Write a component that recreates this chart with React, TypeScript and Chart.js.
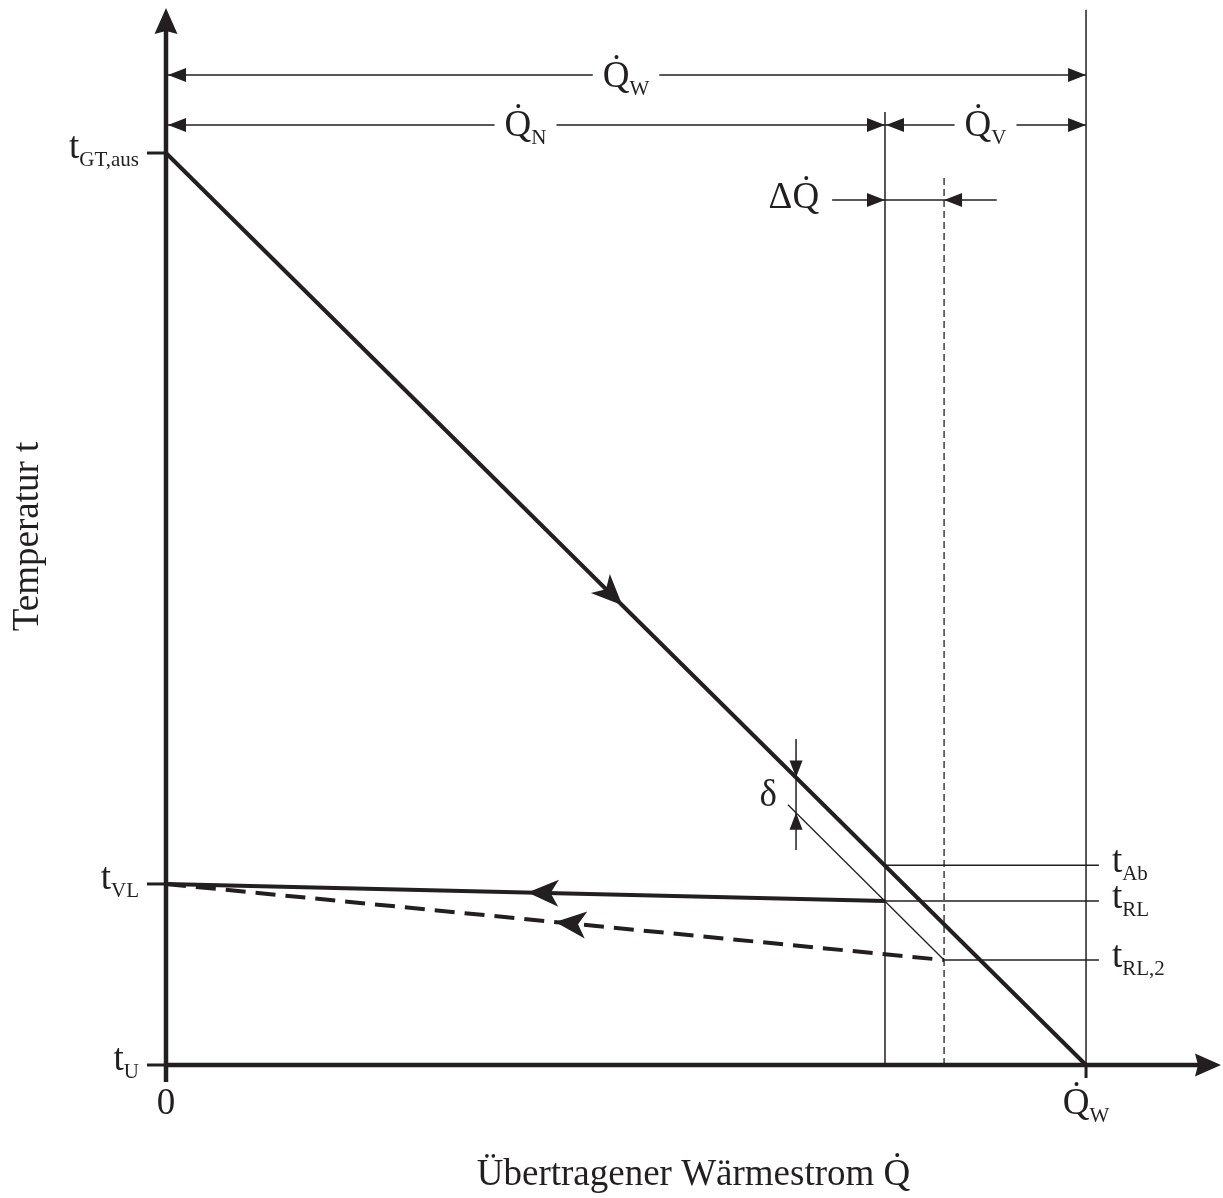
import React, { useEffect, useRef } from "react";
import { Chart, registerables } from "chart.js";

Chart.register(...registerables);

// ---- Data (x: transferred heat flow, 100 = Q̇_W; y: temperature, 0 = t_U, 100 = t_GT,aus) ----
const Q_N = 78.15; // Q̇_N
const Q_N2 = 84.57; // Q̇_N + ΔQ̇
const Q_W = 100; // Q̇_W
const T_U = 0;
const T_GT = 100;
const T_VL = 19.85;
const T_RL = 17.98;
const T_RL2 = 11.51;
const T_AB = 21.9;
const X_MAX = 114.67;
const Y_MAX = 115.9;

const MAIN_LINE = [
  { x: 0, y: T_GT },
  { x: Q_W, y: T_U },
];
const RETURN_LINE = [
  { x: 0, y: T_VL },
  { x: Q_N, y: T_RL },
];
const RETURN_LINE_2 = [
  { x: 0, y: T_VL },
  { x: Q_N2, y: T_RL2 },
];
const THIN_LINE = [
  { x: 67.6, y: 28.53 },
  { x: Q_N2, y: T_RL2 },
];

const Y_TICK_VALUES = [T_U, T_VL, T_GT];
const Y_TICK_LABELS: [string, string][] = [
  ["t", "U"],
  ["t", "VL"],
  ["t", "GT,aus"],
];
const X_TICK_VALUES = [0, Q_W];
const X_TICK_LABELS: [string, string][] = [
  ["0", ""],
  ["Q\u0307", "W"],
];
const RIGHT_VALUES = [T_AB, T_RL, T_RL2];
const RIGHT_STARTS = [Q_N, Q_N, Q_N2];
const RIGHT_LABELS: [string, string][] = [
  ["t", "Ab"],
  ["t", "RL"],
  ["t", "RL,2"],
];
const RIGHT_END = 101.4;

const DIM_Y_W = 108.55;
const DIM_Y_N = 103.07;
const DIM_Y_DQ = 94.85;
const DQ_FROM = 72.4;
const DQ_TO = 90.3;
const V_TOP_N = 104.5;
const V_TOP_W = 115.7;
const V_TOP_N2 = 97.5;
const DELTA_X = 68.48;
const DELTA_TOP = 35.75;
const DELTA_BOTTOM = 23.57;
const DELTA_MAIN = 31.52;
const DELTA_THIN = 27.65;
const FLOW_ARROW_MAIN = 49.6;
const FLOW_ARROW_RETURN = 39.3;
const FLOW_ARROW_RETURN_2 = 42.3;

const X_TITLE = "Übertragener Wärmestrom Q\u0307";
const Y_TITLE = "Temperatur t";

const INK = "#231f20";
const FONT = '"Liberation Serif", "Times New Roman", serif';
const BIG = 37;
const SMALL = 21;

type P = { x: number; y: number };

function seg(data: P[], width: number, dash: number[] = []) {
  return {
    data,
    showLine: true,
    borderColor: INK,
    backgroundColor: INK,
    borderWidth: width,
    borderDash: dash,
    pointRadius: 0,
    pointHoverRadius: 0,
    fill: false,
    clip: false as any,
    borderCapStyle: "butt" as const,
  };
}

function drawLabel(
  ctx: CanvasRenderingContext2D,
  main: string,
  sub: string,
  x: number,
  y: number,
  align: "left" | "right" | "center",
  bg = false
) {
  ctx.font = `${BIG}px ${FONT}`;
  const w1 = ctx.measureText(main).width;
  ctx.font = `${SMALL}px ${FONT}`;
  const w2 = sub ? ctx.measureText(sub).width : 0;
  const total = w1 + w2;
  const x0 = align === "left" ? x : align === "right" ? x - total : x - total / 2;
  if (bg) {
    ctx.fillStyle = "#ffffff";
    ctx.fillRect(x0 - 10, y - 34, total + 20, 48);
  }
  ctx.fillStyle = INK;
  ctx.textAlign = "left";
  ctx.textBaseline = "alphabetic";
  ctx.font = `${BIG}px ${FONT}`;
  ctx.fillText(main, x0, y);
  if (sub) {
    ctx.font = `${SMALL}px ${FONT}`;
    ctx.fillText(sub, x0 + w1, y + 8);
  }
}

function head(
  ctx: CanvasRenderingContext2D,
  tx: number,
  ty: number,
  angle: number,
  len: number,
  half: number,
  notch: number
) {
  const dx = Math.cos(angle);
  const dy = Math.sin(angle);
  const px = -dy;
  const py = dx;
  ctx.beginPath();
  ctx.moveTo(tx, ty);
  ctx.lineTo(tx - len * dx + half * px, ty - len * dy + half * py);
  ctx.lineTo(tx - (len - notch) * dx, ty - (len - notch) * dy);
  ctx.lineTo(tx - len * dx - half * px, ty - len * dy - half * py);
  ctx.closePath();
  ctx.fillStyle = INK;
  ctx.fill();
}

const drawPlugin = {
  id: "schematic",
  afterDatasetsDraw(chart: any) {
    const ctx: CanvasRenderingContext2D = chart.ctx;
    const xs = chart.scales.x;
    const ys = chart.scales.y;
    const X = (v: number) => xs.getPixelForValue(v);
    const Y = (v: number) => ys.getPixelForValue(v);
    const area = chart.chartArea;
    ctx.save();

    // axis arrow heads
    head(ctx, X(0), Y(Y_MAX), -Math.PI / 2, 26, 11.5, 3);
    head(ctx, X(X_MAX), Y(0), 0, 26, 11.5, 3);

    // dimension arrow heads
    const dl = 18, dh = 7;
    head(ctx, X(0) + 2, Y(DIM_Y_W), Math.PI, dl, dh, 0);
    head(ctx, X(Q_W), Y(DIM_Y_W), 0, dl, dh, 0);
    head(ctx, X(0) + 2, Y(DIM_Y_N), Math.PI, dl, dh, 0);
    head(ctx, X(Q_N), Y(DIM_Y_N), 0, dl, dh, 0);
    head(ctx, X(Q_N) + 1, Y(DIM_Y_N), Math.PI, dl, dh, 0);
    head(ctx, X(Q_W), Y(DIM_Y_N), 0, dl, dh, 0);
    head(ctx, X(Q_N), Y(DIM_Y_DQ), 0, dl, dh, 0);
    head(ctx, X(Q_N2), Y(DIM_Y_DQ), Math.PI, dl, dh, 0);
    head(ctx, X(DELTA_X), Y(DELTA_MAIN), Math.PI / 2, 17, 6.5, 0);
    head(ctx, X(DELTA_X), Y(DELTA_THIN), -Math.PI / 2, 17, 6.5, 0);

    // flow direction arrows on the lines
    const onLine = (line: P[], xv: number, reverse: boolean) => {
      const a = line[0], b = line[1];
      const t = (xv - a.x) / (b.x - a.x);
      const yv = a.y + t * (b.y - a.y);
      let ang = Math.atan2(Y(b.y) - Y(a.y), X(b.x) - X(a.x));
      if (reverse) ang += Math.PI;
      head(ctx, X(xv), Y(yv), ang, 31, 13.5, 8);
    };
    onLine(MAIN_LINE, FLOW_ARROW_MAIN, false);
    onLine(RETURN_LINE, FLOW_ARROW_RETURN, true);
    onLine(RETURN_LINE_2, FLOW_ARROW_RETURN_2, true);

    // dimension labels
    drawLabel(ctx, "Q\u0307", "W", X(Q_W / 2), Y(DIM_Y_W) + 12, "center", true);
    drawLabel(ctx, "Q\u0307", "N", X(Q_N / 2), Y(DIM_Y_N) + 11, "center", true);
    drawLabel(ctx, "Q\u0307", "V", X((Q_N + Q_W) / 2), Y(DIM_Y_N) + 11, "center", true);
    drawLabel(ctx, "\u0394Q\u0307", "", X(DQ_FROM) - 13, Y(DIM_Y_DQ) + 8, "right");
    drawLabel(ctx, "\u03b4", "", X(DELTA_X) - 19, Y((DELTA_MAIN + DELTA_THIN) / 2) + 11, "right");

    // y tick labels
    Y_TICK_VALUES.forEach((v, i) => {
      drawLabel(ctx, Y_TICK_LABELS[i][0], Y_TICK_LABELS[i][1], X(0) - 27, Y(v) + 5, "right");
    });
    // x tick labels
    X_TICK_VALUES.forEach((v, i) => {
      drawLabel(ctx, X_TICK_LABELS[i][0], X_TICK_LABELS[i][1], X(v), Y(0) + 49, "center");
    });
    // right labels
    RIGHT_VALUES.forEach((v, i) => {
      drawLabel(ctx, RIGHT_LABELS[i][0], RIGHT_LABELS[i][1], X(RIGHT_END) + 13, Y(v) + 7, "left");
    });

    // axis titles
    ctx.fillStyle = INK;
    ctx.font = `${BIG}px ${FONT}`;
    ctx.textAlign = "center";
    ctx.textBaseline = "alphabetic";
    ctx.fillText(X_TITLE, (area.left + area.right) / 2, Y(0) + 120);
    ctx.save();
    ctx.translate(38, (area.top + area.bottom) / 2);
    ctx.rotate(-Math.PI / 2);
    ctx.fillText(Y_TITLE, 0, 0);
    ctx.restore();

    ctx.restore();
  },
};

export default function App() {
  const ref = useRef<HTMLCanvasElement | null>(null);

  useEffect(() => {
    document.body.style.margin = "0";
    const canvas = ref.current!;
    const tickLen = 2.07;
    const datasets: any[] = [
      // axes
      seg([{ x: 0, y: 0 }, { x: X_MAX - 2, y: 0 }], 4.5),
      seg([{ x: 0, y: -1.86 }, { x: 0, y: Y_MAX - 2 }], 4.5),
      // ticks
      ...Y_TICK_VALUES.map((v) => seg([{ x: -tickLen, y: v }, { x: 0, y: v }], 3)),
      seg([{ x: Q_W, y: 0 }, { x: Q_W, y: -1.43 }], 3),
      // verticals
      seg([{ x: Q_N, y: 0 }, { x: Q_N, y: V_TOP_N }], 1.5),
      seg([{ x: Q_W, y: 0 }, { x: Q_W, y: V_TOP_W }], 1.5),
      seg([{ x: Q_N2, y: 0 }, { x: Q_N2, y: V_TOP_N2 }], 1.3, [7, 4]),
      // right horizontals
      ...RIGHT_VALUES.map((v, i) => seg([{ x: RIGHT_STARTS[i], y: v }, { x: RIGHT_END, y: v }], 1.5)),
      // dimension lines
      seg([{ x: 0, y: DIM_Y_W }, { x: Q_W, y: DIM_Y_W }], 1.5),
      seg([{ x: 0, y: DIM_Y_N }, { x: Q_W, y: DIM_Y_N }], 1.5),
      seg([{ x: DQ_FROM, y: DIM_Y_DQ }, { x: DQ_TO, y: DIM_Y_DQ }], 1.5),
      seg([{ x: DELTA_X, y: DELTA_BOTTOM }, { x: DELTA_X, y: DELTA_TOP }], 1.5),
      // process lines
      seg(THIN_LINE, 1.3),
      seg(RETURN_LINE_2, 4, [20, 10]),
      seg(RETURN_LINE, 4),
      seg(MAIN_LINE, 4),
    ];

    const chart = new Chart(canvas, {
      type: "scatter",
      data: { datasets },
      plugins: [drawPlugin],
      options: {
        responsive: false,
        animation: false,
        events: [],
        devicePixelRatio: 1,
        layout: { padding: { left: 166, right: 2, top: 8, bottom: 133 } },
        plugins: { legend: { display: false }, tooltip: { enabled: false } },
        scales: {
          x: { type: "linear", min: 0, max: X_MAX, display: false },
          y: { type: "linear", min: 0, max: Y_MAX, display: false },
        },
      },
    });
    return () => chart.destroy();
  }, []);

  return (
    <div style={{ width: 1223, height: 1198, background: "#ffffff" }}>
      <canvas ref={ref} width={1223} height={1198} style={{ display: "block" }} />
    </div>
  );
}
